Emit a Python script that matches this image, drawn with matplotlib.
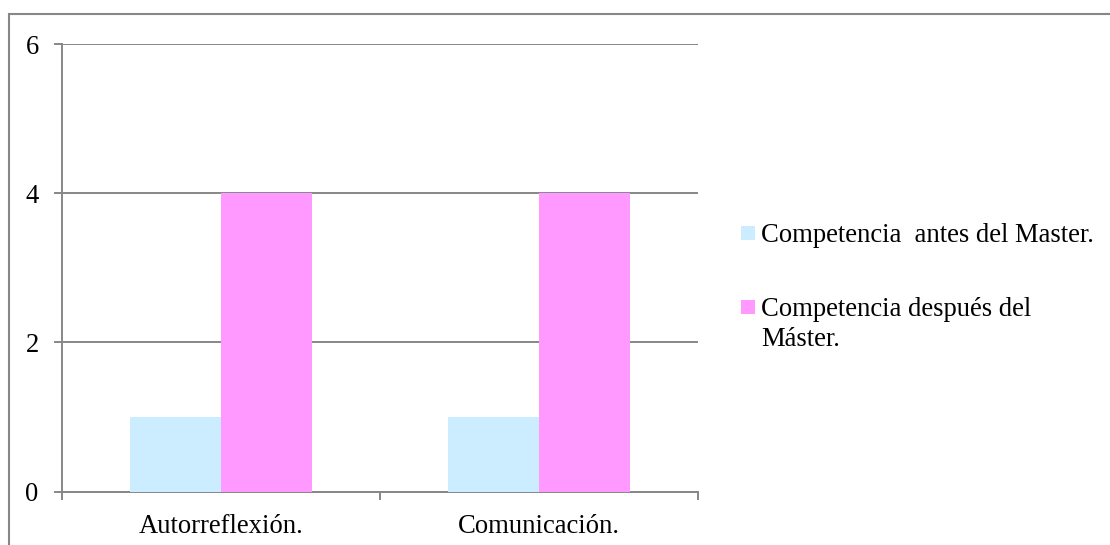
import matplotlib
matplotlib.use("Agg")
import matplotlib.pyplot as plt
import numpy as np
from matplotlib.patches import Rectangle

categories = ["Autorreflexión.", "Comunicación."]
series_names = ["Competencia  antes del Master.", "Competencia después del\nMáster."]
antes = [1, 1]
despues = [4, 4]
yticks = [0, 2, 4, 6]

colors = ["#CCECFF", "#FF99FF"]
grey = "#878787"
fs = 19.2

plt.rcParams["font.family"] = ["Liberation Serif", "DejaVu Serif"]

W, H = 1110, 545
fig = plt.figure(figsize=(W / 100, H / 100), dpi=100)


def fx(px):
    return px / W


def fy(py):
    return 1 - py / H


# outer chart frame (runs off the right and bottom edges)
fig.patches.append(Rectangle((fx(9), -0.05), 1.2, fy(14) + 0.05,
                             transform=fig.transFigure, fill=False,
                             edgecolor=grey, linewidth=1.5))

ax = fig.add_axes([fx(62), fy(491.5), fx(698 - 62), (491.5 - 44) / H])

x = np.arange(len(categories))
width = 0.286
ax.bar(x - width / 2, antes, width, color=colors[0], zorder=3)
ax.bar(x + width / 2, despues, width, color=colors[1], zorder=3)

ax.set_xlim(-0.5, len(categories) - 0.5)
ax.set_ylim(0, 6)
ax.set_yticks(yticks)
ax.set_yticklabels([str(t) for t in yticks])
ax.yaxis.grid(True, color=grey, linewidth=1.4, zorder=0)
ax.set_axisbelow(True)

ax.set_xticks(x)
ax.set_xticklabels(categories)
ax.tick_params(axis="x", length=0, labelsize=fs, pad=16.5)
ax.set_xticks([-0.5, 0.5, 1.5], minor=True)
ax.tick_params(axis="x", which="minor", length=5.5, width=1.4, color=grey)
ax.tick_params(axis="y", length=5.8, width=1.4, color=grey, labelsize=fs, pad=11)

for side in ["top", "right"]:
    ax.spines[side].set_visible(False)
for side in ["left", "bottom"]:
    ax.spines[side].set_color(grey)
    ax.spines[side].set_linewidth(1.4)

# legend: swatch aligned with the first line of each entry
entry_baselines = [242, 316]
line_step = 30
for name, color, base in zip(series_names, colors, entry_baselines):
    fig.patches.append(Rectangle((fx(741), fy(base - 2.5)), 14 / W, 14 / H,
                                 transform=fig.transFigure, facecolor=color,
                                 edgecolor="none"))
    for i, line in enumerate(name.split("\n")):
        fig.text(fx(761), fy(base + i * line_step), line, fontsize=fs,
                 ha="left", va="baseline")

fig.savefig("out.png", dpi=100)
